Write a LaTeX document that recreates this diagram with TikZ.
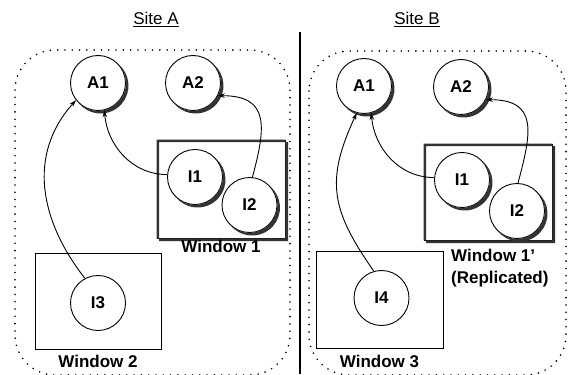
\documentclass[tikz,border=0pt]{standalone}
\usepackage{fontspec}
\setmainfont{Liberation Sans}
\usetikzlibrary{arrows.meta,positioning}

\begin{document}
\begin{tikzpicture}[x=1pt,y=-1pt,
  font=\fontsize{17}{22}\selectfont\bfseries,
  objcircle/.style={circle,draw,line width=0.9pt,fill=white,minimum size=55pt,inner sep=0pt},
  shadowfill/.style={fill=black!80},
  winbox/.style={draw,line width=0.9pt,inner sep=0pt},
  sitezone/.style={line width=1.8pt,dash pattern=on 0pt off 7.3pt,line cap=round,rounded corners=40pt},
  refarrow/.style={-{Stealth[length=7pt,width=4.5pt]},line width=0.9pt},
  sitetitle/.style={anchor=base,font=\fontsize{17}{19}\selectfont}]
\useasboundingbox (0,0) rectangle (569,374);
\clip (0,0) rectangle (569,374);

\node[sitetitle] (siteA) at (156,24.5) {\underline{Site A}};
\node[sitetitle] (siteB) at (417,24.5) {\underline{Site B}};
\draw[line width=1.8pt] (300,32) -- (300,374);

\draw[sitezone] (15,50) rectangle (290,375);
\draw[sitezone] (309,51) rectangle (566,375);

\node[winbox,minimum width=128pt,minimum height=98pt] (win1A) at (221,189) {};
\node[winbox,minimum width=126pt,minimum height=96pt] (win2A) at (98,301) {};
\node[winbox,minimum width=128pt,minimum height=96pt] (win1B) at (488,192) {};
\node[winbox,minimum width=127pt,minimum height=97pt] (win3B) at (379.5,299.5) {};
\foreach \n in {win1A,win1B}
  \fill[shadowfill,even odd rule] ([shift={(2.6pt,-2.6pt)}]\n.south west) rectangle ([shift={(2.6pt,-2.6pt)}]\n.north east)
    (\n.south west) rectangle (\n.north east);

\node[below=2pt of win1A,inner sep=0pt] (win1Alabel) {Window 1};
\node[below=6pt of win2A,inner sep=0pt] (win2Alabel) {Window 2};
\node[anchor=north west,align=left,inner sep=0pt] (win1Blabel) at (451,249) {Window 1’\\(Replicated)};
\node[below=7pt of win3B,inner sep=0pt] (win3Blabel) {Window 3};

\node[objcircle] (a1A) at (98,83) {A1};
\node[objcircle] (a2A) at (193,83) {A2};
\node[objcircle] (i1A) at (195,177) {I1};
\node[objcircle] (i2A) at (249.5,205) {I2};
\node[objcircle] (i3A) at (98,303) {I3};

\node[objcircle] (a1B) at (364,86) {A1};
\node[objcircle] (a2B) at (461,87) {A2};
\node[objcircle] (i1B) at (462,180) {I1};
\node[objcircle] (i2B) at (517,211) {I2};
\node[objcircle] (i4B) at (381.5,298) {I4};

\foreach \n in {a1A,a2A,i1A,i2A,a1B,a2B,i1B,i2B}
  \fill[shadowfill] ([shift={(2.6pt,-2.6pt)},shift={(48.8:27.9pt)}]\n.center)
    arc[start angle=48.8,end angle=-138.8,radius=27.9pt]
    arc[start angle=228.8,end angle=401.2,radius=27.9pt] -- cycle;

\draw[refarrow] (i3A.118) to[out=128,in=228,looseness=1.05] (a1A.218);
\draw[refarrow] (i1A.175) to[out=180,in=-85] (a1A.-77);
\draw[refarrow] (i2A.84) to[out=75,in=0,looseness=1.5] (a2A.-27);

\draw[refarrow] (i4B.106) to[out=125,in=245,looseness=1.2] (a1B.255);
\draw[refarrow] (i1B.175) to[out=180,in=-85] (a1B.-75);
\draw[refarrow] (i2B.88) to[out=75,in=0,looseness=1.5] (a2B.-27);
\end{tikzpicture}
\end{document}
